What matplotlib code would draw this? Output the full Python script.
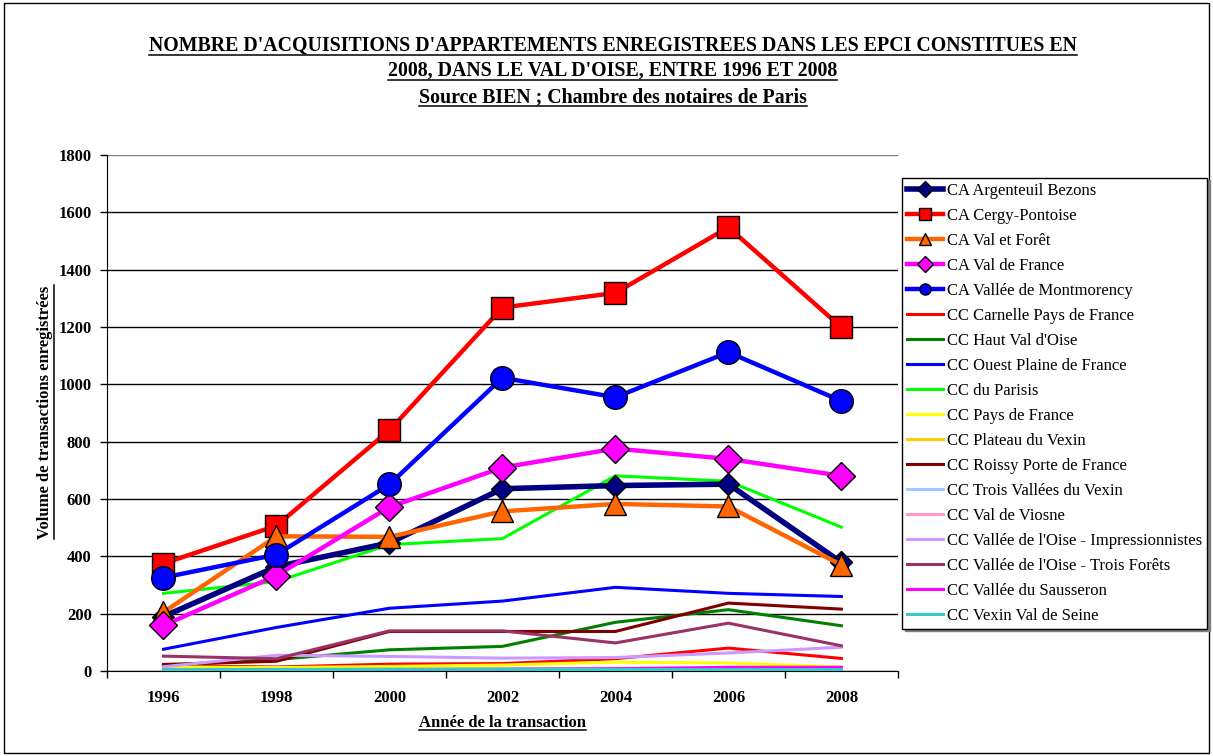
import matplotlib
matplotlib.use("Agg")
import matplotlib.pyplot as plt
from matplotlib.lines import Line2D
from matplotlib.patches import Rectangle

plt.rcParams['font.family'] = ['Liberation Serif', 'DejaVu Serif']

years = ['1996', '1998', '2000', '2002', '2004', '2006', '2008']

names = [
    "CA Argenteuil Bezons", "CA Cergy-Pontoise", "CA Val et Forêt",
    "CA Val de France", "CA Vallée de Montmorency", "CC Carnelle Pays de France",
    "CC Haut Val d'Oise", "CC Ouest Plaine de France", "CC du Parisis",
    "CC Pays de France", "CC Plateau du Vexin", "CC Roissy Porte de France",
    "CC Trois Vallées du Vexin", "CC Val de Viosne",
    "CC Vallée de l'Oise - Impressionnistes", "CC Vallée de l'Oise - Trois Forêts",
    "CC Vallée du Sausseron", "CC Vexin Val de Seine",
]

argenteuil = [190, 364, 447, 636, 647, 652, 379]
cergy = [375, 507, 840, 1268, 1319, 1548, 1199]
val_foret = [205, 470, 468, 557, 583, 574, 370]
val_france = [159, 333, 572, 710, 776, 740, 681]
montmorency = [326, 406, 651, 1023, 955, 1112, 942]
carnelle = [19, 14, 24, 26, 43, 80, 44]
haut_val_oise = [19, 40, 74, 86, 170, 214, 158]
ouest_plaine = [76, 152, 219, 244, 292, 271, 260]
parisis = [271, 312, 441, 462, 681, 662, 502]
pays_france = [14, 12, 16, 21, 31, 28, 14]
plateau_vexin = [6, 5, 6, 7, 8, 7, 6]
roissy = [23, 34, 138, 138, 138, 237, 216]
trois_vallees = [3, 3, 4, 4, 4, 4, 4]
val_viosne = [5, 6, 6, 7, 7, 8, 7]
impressionnistes = [15, 55, 51, 45, 47, 63, 83]
trois_forets = [52, 43, 140, 140, 98, 167, 88]
sausseron = [3, 4, 5, 6, 8, 13, 13]
vexin_seine = [5, 5, 6, 6, 5, 5, 5]

series = [argenteuil, cergy, val_foret, val_france, montmorency, carnelle,
          haut_val_oise, ouest_plaine, parisis, pays_france, plateau_vexin,
          roissy, trois_vallees, val_viosne, impressionnistes, trois_forets,
          sausseron, vexin_seine]

colors = ['#000080', '#FF0000', '#FF6600', '#FF00FF', '#0000FF', '#FF0000',
          '#008000', '#0000FF', '#00FF00', '#FFFF00', '#FFCC00', '#800000',
          '#99CCFF', '#FF99CC', '#CC99FF', '#993366', '#FF00FF', '#33CCCC']
markers = ['D', 's', '^', 'D', 'o'] + [None] * 13
msizes = [11, 16, 16, 14, 17] + [0] * 13
lwidths = [4, 3.2, 3.2, 3.2, 3.2] + [2.2] * 13

fig = plt.figure(figsize=(12.13, 7.56), dpi=100)
ax = fig.add_axes([0.0882, 0.1124, 0.652, 0.6825])

x = list(range(len(years)))
handles = []
for i, vals in enumerate(series):
    ln, = ax.plot(x, vals, color=colors[i], lw=lwidths[i], marker=markers[i],
                  markersize=msizes[i], markeredgecolor='black',
                  markeredgewidth=1.0, zorder=3 + (1 if markers[i] else 0),
                  solid_joinstyle='miter')
    handles.append(Line2D([], [], color=colors[i], lw=lwidths[i],
                          marker=markers[i], markersize=8 if markers[i] else 0,
                          markeredgecolor='black', markeredgewidth=1.0))

ax.set_xlim(-0.5, 6.5)
ax.set_ylim(0, 1800)
ax.set_yticks(range(0, 1801, 200))
ax.set_xticks(x)
ax.set_xticklabels(years, fontsize=12, fontweight='bold')
ax.set_xticks([i - 0.5 for i in range(8)], minor=True)
ax.tick_params(axis='x', which='major', length=0, pad=14)
ax.tick_params(axis='x', which='minor', length=5, direction='out', width=1)
ax.tick_params(axis='y', length=5, direction='out', width=1, labelsize=12, pad=6)
for lab in ax.get_yticklabels():
    lab.set_fontweight('bold')
ax.grid(axis='y', color='black', lw=1, zorder=1)
ax.get_ygridlines()[-1].set_color('#808080')
ax.set_axisbelow(True)
for side in ['top', 'right']:
    ax.spines[side].set_visible(False)
ax.spines['left'].set_color('black')
ax.spines['bottom'].set_color('black')

leg = fig.legend(handles, names, loc='upper left',
                 bbox_to_anchor=(0.7435, 0.765), bbox_transform=fig.transFigure,
                 borderaxespad=0, fontsize=12, frameon=True, fancybox=False,
                 shadow={'color': '#808080', 'alpha': 1}, edgecolor='black',
                 framealpha=1, labelspacing=0.54, handlelength=2.15,
                 handletextpad=0.25, borderpad=0.3)
leg.get_frame().set_linewidth(1.0)

title_lines = [
    "NOMBRE D'ACQUISITIONS D'APPARTEMENTS ENREGISTREES DANS LES EPCI CONSTITUES EN",
    "2008, DANS LE VAL D'OISE, ENTRE 1996 ET 2008",
    "Source BIEN ; Chambre des notaires de Paris",
]
title_y = [0.939, 0.906, 0.872]
texts = []
for t, yy in zip(title_lines, title_y):
    texts.append(fig.text(0.505, yy, t, ha='center', va='center',
                          fontsize=14.3, fontweight='bold'))

ylab = fig.text(0.0371, 0.455, 'Volume de transactions enregistrées',
                rotation=90, ha='center', va='center', fontsize=12,
                fontweight='bold')
xlab = fig.text(0.414, 0.044, 'Année de la transaction', ha='center',
                va='center', fontsize=12, fontweight='bold')

# border around the whole picture
fig.add_artist(Rectangle((0.003, 0.004), 0.994, 0.992, transform=fig.transFigure,
                         fill=False, edgecolor='black', lw=1))

# underline the texts
fig.canvas.draw()
r = fig.canvas.get_renderer()
inv = fig.transFigure.inverted()
for t in texts + [xlab]:
    bb = t.get_window_extent(r)
    (x0, y0), (x1, y1) = inv.transform([(bb.x0, bb.y0 + 1), (bb.x1, bb.y0 + 1)])
    fig.add_artist(Line2D([x0, x1], [y0, y1], color='black', lw=1.1,
                          transform=fig.transFigure))
bb = ylab.get_window_extent(r)
(x0, y0), (x1, y1) = inv.transform([(bb.x1 + 1, bb.y0), (bb.x1 + 1, bb.y1)])
fig.add_artist(Line2D([x0, x1], [y0, y1], color='black', lw=1.1,
                      transform=fig.transFigure))

fig.savefig('out.png', dpi=100)
